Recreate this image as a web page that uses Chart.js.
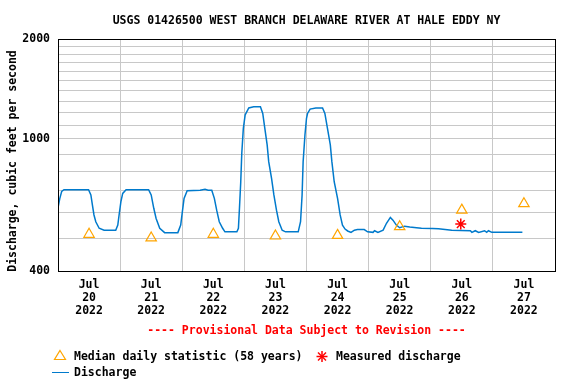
<!DOCTYPE html>
<html>
<head>
<meta charset="utf-8">
<script src="https://cdn.jsdelivr.net/npm/chart.js@4"></script>
<style>
  html, body { margin: 0; padding: 0; background: #fff; }
  #wrap { position: relative; width: 576px; height: 384px; overflow: hidden; }
  canvas { position: absolute; left: 0; top: 0; }
  .t { position: absolute; font-family: 'DejaVu Sans Mono', monospace; font-weight: bold; font-size: 11.5px; line-height: 14px; white-space: pre; color: #000; }
  svg { position: absolute; }
</style>
</head>
<body>
<div id="wrap">
  <canvas id="c" width="576" height="384"></canvas>
  <div class="t" id="title" style="left:58px; width:497px; top:13px; text-align:center;">USGS 01426500 WEST BRANCH DELAWARE RIVER AT HALE EDDY NY</div>
  <div class="t" style="left:-138px; width:300px; top:154px; text-align:center; transform:rotate(-90deg); transform-origin:150px 7px;">Discharge, cubic feet per second</div>
  <div class="t" style="left:58px; width:497px; top:323px; text-align:center; color:#ff0000;">---- Provisional Data Subject to Revision ----</div>
  <svg style="left:53px; top:349px;" width="15" height="13"><polygon points="7,1.5 12.5,10.5 1.5,10.5" fill="none" stroke="#ffa500" stroke-width="1.2"/></svg>
  <div class="t" style="left:74px; top:349px;">Median daily statistic (58 years)</div>
  <svg style="left:315px; top:350px;" width="14" height="13"><g stroke="#ff0000" stroke-width="1.5"><line x1="7" y1="1" x2="7" y2="12"/><line x1="1.5" y1="6.5" x2="12.5" y2="6.5"/><line x1="3" y1="2.5" x2="11" y2="10.5"/><line x1="11" y1="2.5" x2="3" y2="10.5"/></g></svg>
  <div class="t" style="left:336px; top:349px;">Measured discharge</div>
  <div style="position:absolute; left:52px; top:372px; width:17px; height:0; border-top:1.5px solid rgb(0,122,204);"></div>
  <div class="t" style="left:74px; top:365px;">Discharge</div>
</div>
<script>
// ---- data (hours since Jul 20 2022 00:00) ----
const dischargeHours = [0,0.66,1.43,2.3,11.8,12.7,13.3,13.9,14.6,15.9,17.8,22.3,23.1,23.6,24.3,25.0,26.3,35.0,36.0,37.0,37.9,39.3,41.2,46.3,47.4,48.0,48.7,49.9,54.9,56.8,58.0,59.4,60.4,61.3,62.3,63.6,64.5,69.1,69.7,70.1,70.6,71.0,71.6,72.3,73.7,75.6,78.2,79.1,79.9,80.8,81.4,82.5,83.4,84.4,85.3,86.6,87.9,92.8,93.7,94.3,94.7,95.4,96.0,96.4,97.4,99.6,102.2,103.1,104.1,105.2,105.8,106.7,108.0,109.0,109.9,110.9,111.9,113.2,114.5,115.7,118.3,119.6,121.7,122.3,123.6,125.6,126.9,128.4,129.4,130.7,132.0,133.9,135.9,138.5,140.4,144.7,147.0,152.1,159.3,159.9,161.2,162.5,164.8,165.6,166.3,167.6,179.4];
const dischargeValues = [620,660,695,703,703,678,632,590,563,538,531,531,550,590,647,685,703,703,678,618,576,538,522,522,550,600,662,698,700,705,700,700,662,610,563,538,525,525,538,618,743,905,1076,1181,1240,1250,1250,1193,1076,959,854,761,678,610,563,531,525,525,563,678,854,1028,1154,1193,1230,1240,1240,1193,1076,959,854,743,662,590,550,535,528,523,531,533,533,525,523,529,523,531,557,580,569,550,540,546,543,540,538,537,536,531,529,523,529,523,529,523,529,523,523];
const medianHours = [12,36,60,84,108,132,156,180];
const medianValues = [516,503,516,510,512,544,610,638];
const measuredHours = [155.6];
const measuredValues = [554];
// ---- axis labels ----
const dayMonth = 'Jul';
const dayNumbers = ['20','21','22','23','24','25','26','27'];
const dayYear = '2022';
const yGridValues = [400,500,600,700,800,900,1000,1100,1200,1300,1400,1500,1600,1700,1800,1900,2000];
const yLabelValues = [400,1000,2000];

const font = { family: "'DejaVu Sans Mono', monospace", size: 11.5, weight: 'bold', lineHeight: 1.15 };
const toXY = (xs, ys) => xs.map((x, i) => ({ x: x, y: ys[i] }));

const frame = {
  id: 'frame',
  afterDraw(chart) {
    const a = chart.chartArea, ctx = chart.ctx;
    ctx.save();
    ctx.strokeStyle = '#000';
    ctx.lineWidth = 1;
    ctx.strokeRect(Math.round(a.left) + 0.5, Math.round(a.top) + 0.5, Math.round(a.right - a.left), Math.round(a.bottom - a.top));
    ctx.restore();
  }
};

new Chart(document.getElementById('c'), {
  type: 'scatter',
  data: {
    datasets: [
      { label: 'Discharge', type: 'line', data: toXY(dischargeHours, dischargeValues), borderColor: 'rgb(0,122,204)', borderWidth: 1.5, pointRadius: 0, tension: 0, fill: false, order: 3 },
      { label: 'Median daily statistic (58 years)', data: toXY(medianHours, medianValues), pointStyle: 'triangle', radius: 6, borderColor: '#ffa500', backgroundColor: 'rgba(0,0,0,0)', borderWidth: 1.2, order: 1 },
      { label: 'Measured discharge', data: toXY(measuredHours, measuredValues), pointStyle: 'star', radius: 5.5, borderColor: '#ff0000', backgroundColor: '#ff0000', borderWidth: 1.5, order: 2 }
    ]
  },
  options: {
    responsive: false,
    animation: false,
    layout: { padding: { left: 0, top: 39, right: 21, bottom: 63 } },
    plugins: { legend: { display: false }, title: { display: false }, tooltip: { enabled: false } },
    scales: {
      x: {
        type: 'linear', min: 0, max: 192,
        afterBuildTicks(s) { const t = []; for (let v = 0; v <= 192; v += 12) t.push({ value: v }); s.ticks = t; },
        afterFit(s) { s.height = 50; },
        ticks: {
          autoSkip: false, maxRotation: 0, minRotation: 0, padding: 7, color: '#000', font: font,
          callback(v) { if (v % 24 === 12) { const d = Math.floor(v / 24); return [dayMonth, dayNumbers[d], dayYear]; } return ''; }
        },
        grid: { drawTicks: false, color: (c) => (c.tick && c.tick.value % 24 === 0) ? '#c8c8c8' : 'rgba(0,0,0,0)', lineWidth: 1 },
        border: { display: false }
      },
      y: {
        type: 'logarithmic', min: 400, max: 2000,
        afterBuildTicks(s) { s.ticks = yGridValues.map(v => ({ value: v })); },
        afterFit(s) { s.width = 58; },
        ticks: {
          autoSkip: false, padding: 8, color: '#000', font: font,
          callback(v) { return yLabelValues.includes(v) ? String(v) : ''; }
        },
        grid: { drawTicks: false, color: '#c8c8c8', lineWidth: 1 },
        border: { display: false },
        title: { display: false }
      }
    }
  },
  plugins: [frame]
});
</script>
</body>
</html>
